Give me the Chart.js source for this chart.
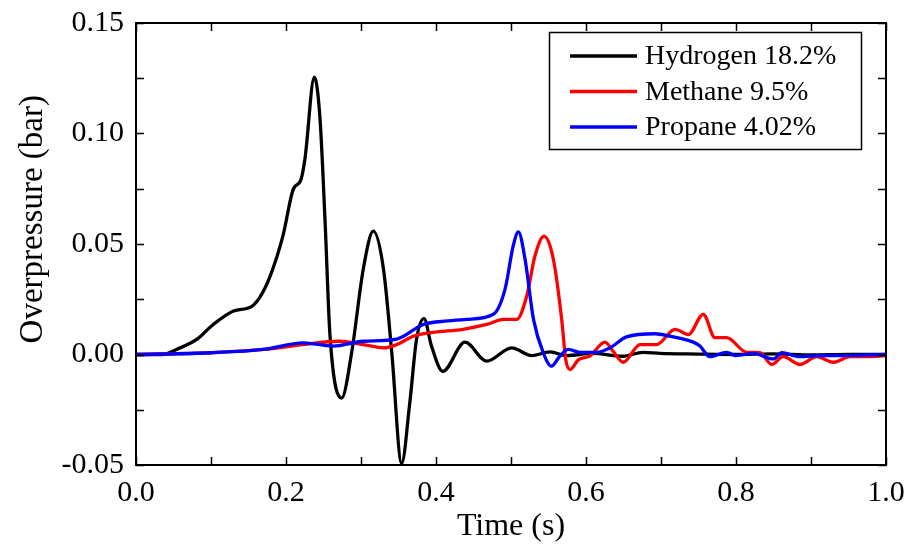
<!DOCTYPE html>
<html>
<head>
<meta charset="utf-8">
<script src="https://cdn.jsdelivr.net/npm/chart.js@4.4.1/dist/chart.umd.min.js"></script>
<style>
  html, body { margin: 0; padding: 0; background: #fff; }
  #wrap { width: 922px; height: 550px; }
</style>
</head>
<body>
<div id="wrap"><canvas id="chart"></canvas></div>
<script>
// --- datos ---
const hydrogenT = [0, 0.036, 0.054, 0.081, 0.103, 0.130, 0.154, 0.165, 0.179, 0.196, 0.210, 0.2196, 0.2253, 0.2378, 0.2453, 0.252, 0.2587, 0.2742, 0.2876, 0.303, 0.3164, 0.33, 0.341, 0.3542, 0.365, 0.374, 0.384, 0.394, 0.409, 0.4387, 0.4676, 0.501, 0.5276, 0.552, 0.574, 0.609, 0.649, 0.676, 0.699, 0.75, 0.8, 0.85, 0.9, 0.95, 1.0];
const hydrogenP = [0, 0, 0.0023, 0.0068, 0.0136, 0.0197, 0.0217, 0.0258, 0.0356, 0.0538, 0.075, 0.0788, 0.0886, 0.1255, 0.107, 0.061, 0.0083, -0.0197, 0.001, 0.0386, 0.0558, 0.0386, 0.001, -0.0492, -0.022, 0.0068, 0.0162, 0.0038, -0.0076, 0.0056, -0.003, 0.003, -0.0005, 0.0012, -0.0005, 0.0005, -0.0008, 0.001, 0.0005, 0.0002, 0, 0.0003, -0.0002, 0, 0];

const methaneT = [0, 0.1, 0.17, 0.223, 0.27, 0.303, 0.33, 0.3476, 0.37, 0.396, 0.436, 0.4676, 0.49, 0.5076, 0.521, 0.532, 0.544, 0.5564, 0.5676, 0.573, 0.5787, 0.59, 0.605, 0.6253, 0.636, 0.6498, 0.672, 0.694, 0.7187, 0.7364, 0.7564, 0.772, 0.7876, 0.8142, 0.832, 0.8476, 0.863, 0.8853, 0.9076, 0.93, 0.952, 0.974, 1.0];
const methaneP = [0, 0.0008, 0.0023, 0.0045, 0.006, 0.0045, 0.003, 0.0045, 0.0083, 0.010, 0.0114, 0.0136, 0.0159, 0.0159, 0.0265, 0.0447, 0.0535, 0.0432, 0.0159, -0.0023, -0.0068, -0.0023, -0.0007, 0.0056, 0.0015, -0.0035, 0.0045, 0.0045, 0.0114, 0.009, 0.0182, 0.0076, 0.0076, 0.001, 0.0008, -0.0045, -0.001, -0.0045, -0.001, -0.0035, -0.001, -0.001, -0.0005];

const propaneT = [0, 0.1, 0.17, 0.223, 0.263, 0.303, 0.3476, 0.383, 0.416, 0.441, 0.4764, 0.492, 0.503, 0.5098, 0.5187, 0.53, 0.543, 0.554, 0.565, 0.5764, 0.592, 0.614, 0.632, 0.654, 0.692, 0.712, 0.743, 0.752, 0.765, 0.7876, 0.8, 0.823, 0.85, 0.861, 0.885, 0.912, 0.943, 1.0];
const propaneP = [0, 0.0008, 0.0023, 0.0053, 0.0038, 0.006, 0.007, 0.0136, 0.0152, 0.0159, 0.0182, 0.0295, 0.0492, 0.0555, 0.0432, 0.0159, 0.0008, -0.0053, -0.0008, 0.0023, 0.001, 0.001, 0.003, 0.008, 0.0094, 0.0083, 0.0056, 0.0038, -0.001, 0.001, -0.0005, 0.0005, -0.002, 0.0008, -0.001, -0.0005, -0.0005, 0];

const seriesNames = ['Hydrogen 18.2%', 'Methane 9.5%', 'Propane 4.02%'];
const seriesColors = ['#000000', '#ff0000', '#0000ff'];

const toPoints = (t, p) => t.map((x, i) => ({ x: x, y: p[i] }));

const FONT = '"Liberation Serif", "Times New Roman", serif';

// ticks hacia dentro en los cuatro lados + marco
const frameTicks = {
    id: 'frameTicks',
    afterDatasetsDraw(chart) {
        const { ctx, chartArea: a, scales: { x, y } } = chart;
        ctx.save();
        ctx.strokeStyle = '#000';
        ctx.lineWidth = 2;
        ctx.strokeRect(a.left, a.top, a.right - a.left, a.bottom - a.top);
        ctx.lineWidth = 1.5;
        ctx.beginPath();
        for (let v = 0; v <= 1.0001; v += 0.1) {
            const px = Math.round(x.getPixelForValue(v)) + 0.5;
            const len = 8;
            ctx.moveTo(px, a.bottom); ctx.lineTo(px, a.bottom - len);
            ctx.moveTo(px, a.top); ctx.lineTo(px, a.top + len);
        }
        for (let v = -0.05; v <= 0.1501; v += 0.025) {
            const py = Math.round(y.getPixelForValue(v)) + 0.5;
            const len = 8;
            ctx.moveTo(a.left, py); ctx.lineTo(a.left + len, py);
            ctx.moveTo(a.right, py); ctx.lineTo(a.right - len, py);
        }
        ctx.stroke();
        ctx.restore();
    }
};

// leyenda en recuadro, como en la figura
const boxLegend = {
    id: 'boxLegend',
    afterDraw(chart) {
        const { ctx } = chart;
        const bx = 549, by = 32, bw = 312, bh = 117;
        ctx.save();
        ctx.fillStyle = '#fff';
        ctx.fillRect(bx, by, bw, bh);
        ctx.strokeStyle = '#000';
        ctx.lineWidth = 1.5;
        ctx.strokeRect(bx + 0.5, by + 0.5, bw, bh);
        ctx.font = '28px ' + FONT;
        ctx.textBaseline = 'middle';
        chart.data.datasets.forEach((ds, i) => {
            const cy = by + 24 + i * 35.5;
            ctx.strokeStyle = ds.borderColor;
            ctx.lineWidth = 3.5;
            ctx.beginPath();
            ctx.moveTo(570, cy); ctx.lineTo(637, cy);
            ctx.stroke();
            ctx.fillStyle = '#000';
            ctx.fillText(ds.label, 645, cy + 1);
        });
        ctx.restore();
    }
};

new Chart(document.getElementById('chart'), {
    type: 'line',
    data: {
        datasets: [
            { label: seriesNames[0], data: toPoints(hydrogenT, hydrogenP), borderColor: seriesColors[0], order: 3 },
            { label: seriesNames[1], data: toPoints(methaneT, methaneP), borderColor: seriesColors[1], order: 2 },
            { label: seriesNames[2], data: toPoints(propaneT, propaneP), borderColor: seriesColors[2], order: 1 }
        ].map(d => Object.assign(d, { borderWidth: 3.3, pointRadius: 0, fill: false, cubicInterpolationMode: 'monotone' }))
    },
    options: {
        responsive: true,
        maintainAspectRatio: false,
        animation: false,
        layout: { padding: { left: 0, right: 36, top: 23, bottom: 0 } },
        plugins: { legend: { display: false }, tooltip: { enabled: false } },
        scales: {
            x: {
                type: 'linear', min: 0, max: 1,
                grid: { display: false, drawTicks: false },
                border: { display: false },
                ticks: { stepSize: 0.2, padding: 10, color: '#000', font: { family: FONT, size: 30 }, callback: v => v.toFixed(1) },
                title: { display: true, text: 'Time (s)', color: '#000', font: { family: FONT, size: 32 }, padding: { top: 3 } },
                afterFit: s => { s.height = 85; }
            },
            y: {
                min: -0.05, max: 0.15,
                grid: { display: false, drawTicks: false },
                border: { display: false },
                ticks: { stepSize: 0.05, padding: 12, color: '#000', font: { family: FONT, size: 30, lineHeight: 0.6 }, callback: v => v.toFixed(2) },
                // espacios delante: sube el título como en el original
                title: { display: true, text: '      Overpressure (bar)', color: '#000', font: { family: FONT, size: 33 }, padding: { top: 14 } },
                afterFit: s => { s.width = 136; }
            }
        }
    },
    plugins: [frameTicks, boxLegend]
});
</script>
</body>
</html>
